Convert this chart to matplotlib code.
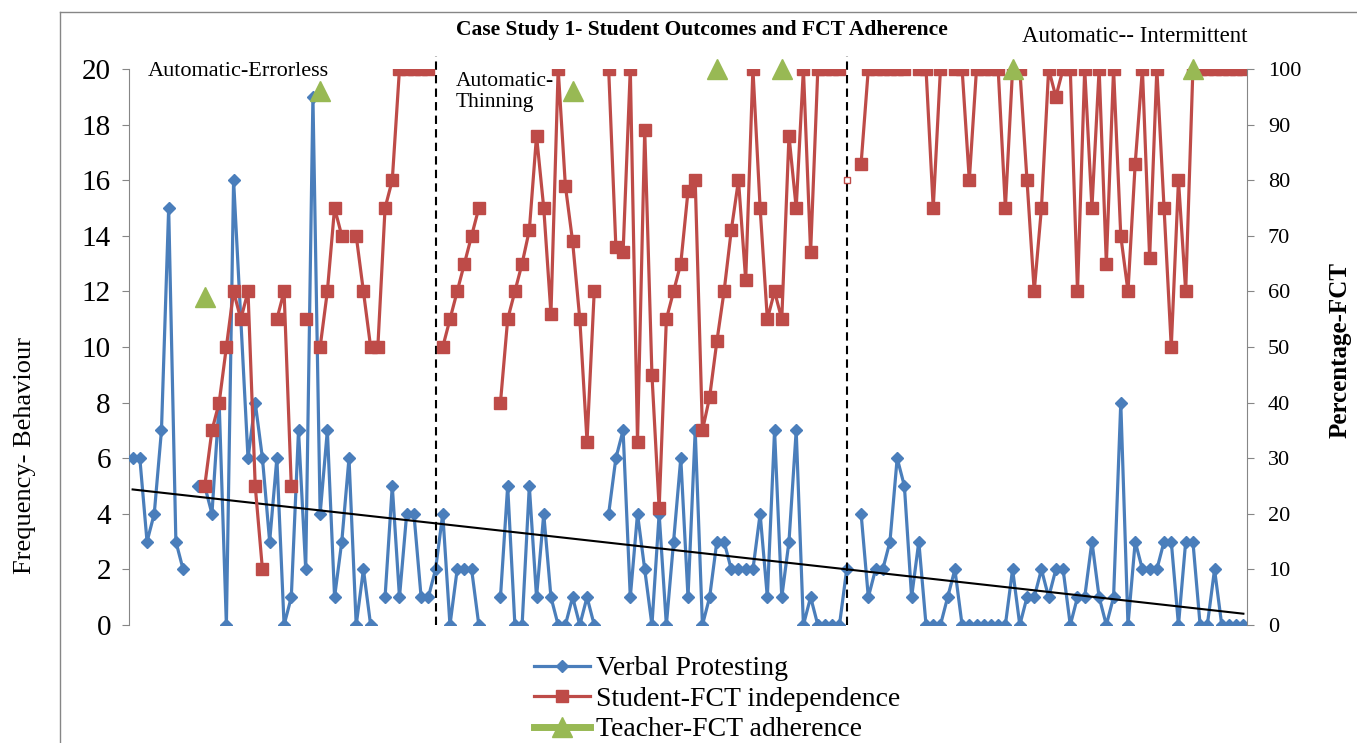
import numpy as np
import matplotlib.pyplot as plt

nan = np.nan

# 0. Data (one value per session, NaN = no data)
verbal_protesting = [
    6, 6, 3, 4, 7, 15, 3, 2, nan, 5,
    5, 4, 8, 0, 16, 11, 6, 8, 6, 3,
    6, 0, 1, 7, 2, 19, 4, 7, 1, 3,
    6, 0, 2, 0, nan, 1, 5, 1, 4, 4,
    1, 1, 2, 4, 0, 2, 2, 2, 0, nan,
    nan, 1, 5, 0, 0, 5, 1, 4, 1, 0,
    0, 1, 0, 1, 0, nan, 4, 6, 7, 1,
    4, 2, 0, 4, 0, 3, 6, 1, 7, 0,
    1, 3, 3, 2, 2, 2, 2, 4, 1, 7,
    1, 3, 7, 0, 1, 0, 0, 0, 0, 2,
    nan, 4, 1, 2, 2, 3, 6, 5, 1, 3,
    0, 0, 0, 1, 2, 0, 0, 0, 0, 0,
    0, 0, 2, 0, 1, 1, 2, 1, 2, 2,
    0, 1, 1, 3, 1, 0, 1, 8, 0, 3,
    2, 2, 2, 3, 3, 0, 3, 3, 0, 0,
    2, 0, 0, 0, 0,
]

student_fct = [
    nan, nan, nan, nan, nan, nan, nan, nan, nan, nan,
    25, 35, 40, 50, 60, 55, 60, 25, 10, nan,
    55, 60, 25, nan, 55, nan, 50, 60, 75, 70,
    nan, 70, 60, 50, 50, 75, 80, 100, 100, 100,
    100, 100, nan, 50, 55, 60, 65, 70, 75, nan,
    nan, 40, 55, 60, 65, 71, 88, 75, 56, 100,
    79, 69, 55, 33, 60, nan, 100, 68, 67, 100,
    33, 89, 45, 21, 55, 60, 65, 78, 80, 35,
    41, 51, 60, 71, 80, 62, 100, 75, 55, 60,
    55, 88, 75, 100, 67, 100, 100, 100, 100, nan,
    nan, 83, 100, 100, 100, 100, 100, 100, nan, 100,
    100, 75, 100, nan, 100, 100, 80, 100, 100, 100,
    100, 75, 100, 100, 80, 60, 75, 100, 95, 100,
    100, 60, 100, 75, 100, 65, 100, 70, 60, 83,
    100, 66, 100, 75, 50, 80, 60, 100, 100, 100,
    100, 100, 100, 100, 100,
]

# teacher adherence was only scored on a few sessions
teacher_sessions = [10, 26, 61, 81, 90, 122, 147]
teacher_values = [59, 96, 96, 100, 100, 100, 100]

# phase changes (between sessions) and labels
phase_breaks = [42.1, 99.1]
stray_point = (99.1, 80)

n = len(verbal_protesting)
sessions = np.arange(n)
blue = np.array(verbal_protesting, dtype=float)
red = np.array(student_fct, dtype=float)
green = np.full(n, nan)
green[teacher_sessions] = teacher_values

# linear trend of verbal protesting
ok = ~np.isnan(blue)
slope, icept = np.polyfit(sessions[ok], blue[ok], 1)
trend = slope * sessions + icept

# 1. Figure
W, H = 1357, 743
fig = plt.figure(figsize=(W / 100, H / 100), dpi=100)
plt.rcParams['font.family'] = ['Liberation Serif', 'DejaVu Serif']

def fx(px):
    return px / W

def fy(py):
    return 1 - py / H

ax = fig.add_axes([fx(129), fy(625), fx(1247) - fx(129), fy(69) - fy(625)])
ax2 = ax.twinx()

c_blue = '#4A7EBB'
c_red = '#BE4B48'
c_green = '#98B954'
c_axis = '#868686'

l1, = ax.plot(sessions, blue, color=c_blue, lw=2.3, marker='D', ms=6.5,
              label='Verbal Protesting', zorder=3)
ax.plot(sessions, trend, color='black', lw=1.5, zorder=4)
for b in phase_breaks:
    ax.plot([b, b], [0, 20.45], color='black', lw=1.5, ls=(0, (4, 2.5)),
            clip_on=False, zorder=5)

l2, = ax2.plot(sessions, red, color=c_red, lw=2.3, marker='s', ms=8.5,
               label='Student-FCT independence')
ax2.plot(*stray_point, marker='s', ms=4, mfc='white', mec=c_red, mew=1)
l3, = ax2.plot(sessions, green, color=c_green, lw=5, marker='^', ms=15,
               label='Teacher-FCT adherence', clip_on=False)

ax.set_xlim(-0.5, n - 0.5)
ax.set_ylim(0, 20)
ax.set_yticks(np.arange(0, 21, 2))
ax2.set_ylim(0, 100)
ax2.set_yticks(np.arange(0, 101, 10))
ax.set_xticks([])

for a in (ax, ax2):
    a.spines['top'].set_visible(False)
    a.spines['bottom'].set_visible(False)
    a.patch.set_visible(False)
ax.spines['right'].set_visible(False)
ax.spines['left'].set_color(c_axis)
ax2.spines['left'].set_visible(False)
ax2.spines['right'].set_color(c_axis)
ax.tick_params(axis='y', direction='out', length=5, color=c_axis, labelsize=21, pad=8)
ax2.tick_params(axis='y', direction='out', length=5, color=c_axis, labelsize=16, pad=10)

# 2. Texts
fig.text(fx(702), fy(30), 'Case Study 1- Student Outcomes and FCT Adherence',
         ha='center', va='center', fontsize=15.5, fontweight='bold')
fig.text(fx(148), fy(71), 'Automatic-Errorless', ha='left', va='center', fontsize=16)
fig.text(fx(456), fy(92), 'Automatic-\nThinning', ha='left', va='center',
         fontsize=15.5, linespacing=1.1)
fig.text(fx(1022), fy(37), 'Automatic-- Intermittent', ha='left', va='center', fontsize=16.5)
fig.text(fx(25), fy(455), 'Frequency- Behaviour', rotation=90, ha='center',
         va='center', fontsize=19)
fig.text(fx(1340), fy(350), 'Percentage-FCT', rotation=90, ha='center',
         va='center', fontsize=18, fontweight='bold')

# chart area border
fig.add_artist(plt.Line2D([fx(60), fx(60)], [0, fy(12)], color=c_axis, lw=1))
fig.add_artist(plt.Line2D([fx(60), 1], [fy(12), fy(12)], color=c_axis, lw=1))

fig.legend(handles=[l1, l2, l3], loc='upper left',
           bbox_to_anchor=(fx(534), fy(656)), frameon=False, fontsize=20,
           handlelength=2.0, handletextpad=0.25, labelspacing=0.18,
           borderpad=0, borderaxespad=0)

plt.savefig('out.png', dpi=100)
